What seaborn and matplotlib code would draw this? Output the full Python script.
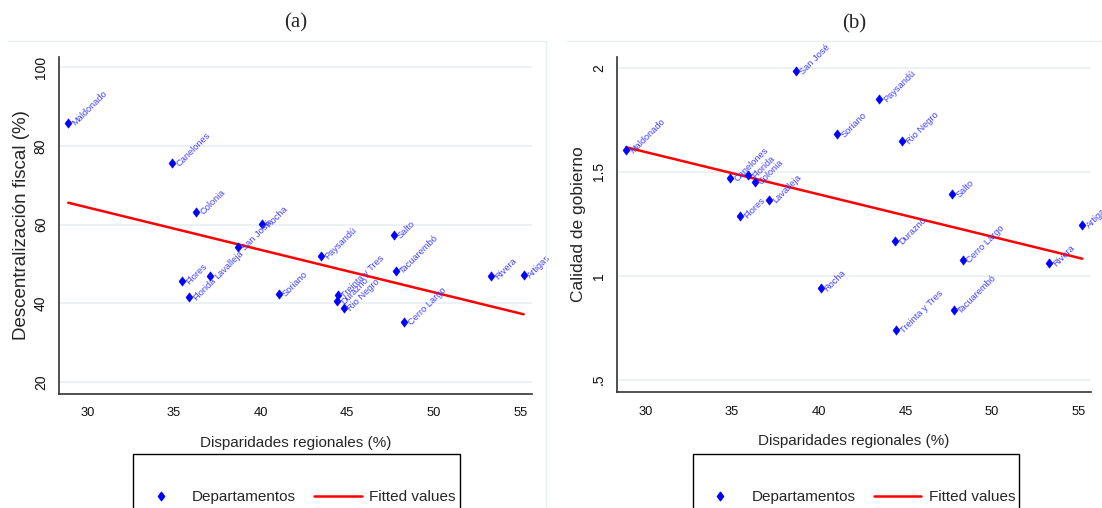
import numpy as np
import pandas as pd
import seaborn as sns
import matplotlib.pyplot as plt
from matplotlib import font_manager
from matplotlib.lines import Line2D
from matplotlib.patches import Rectangle
from matplotlib.path import Path

# datos
deptos = ["Maldonado", "Canelones", "Florida", "Colonia", "Flores", "Lavalleja",
          "San José", "Rocha", "Soriano", "Paysandú", "Durazno", "Treinta y Tres",
          "Rio Negro", "Salto", "Tacuarembó", "Cerro Largo", "Rivera", "Artigas"]
disparidades = [28.9, 34.9, 35.9, 36.3, 35.45, 37.1, 38.7, 40.1, 41.05, 43.5,
                44.4, 44.45, 44.8, 47.7, 47.8, 48.3, 53.3, 55.2]
descentralizacion = [85.9, 75.6, 41.5, 63.3, 45.7, 47.0, 54.3, 60.1, 42.5, 52.0,
                     40.6, 42.1, 38.8, 57.4, 48.3, 35.2, 46.9, 47.1]
calidad = [1.604, 1.468, 1.484, 1.452, 1.288, 1.362, 1.983, 0.94, 1.68, 1.85,
           1.166, 0.74, 1.649, 1.393, 0.835, 1.075, 1.061, 1.242]

xticks = [30, 35, 40, 45, 50, 55]
yticks_a = [20, 40, 60, 80, 100]
yticks_b = [0.5, 1, 1.5, 2]
yticklabels_b = [".5", "1", "1.5", "2"]
titulos = ["(a)", "(b)"]
ylabels = ["Descentralización fiscal (%)", "Calidad de gobierno"]
xlabel = "Disparidades regionales (%)"
leyenda = ["Departamentos", "Fitted values"]

df = pd.DataFrame({"depto": deptos, "disp": disparidades,
                   "desc": descentralizacion, "cal": calidad})

sns.set_style("white")
names = {f.name for f in font_manager.fontManager.ttflist}
narrow = "Liberation Sans Narrow" in names
hfont = "Liberation Sans Narrow" if narrow else "Liberation Sans"
plt.rcParams["font.family"] = ["Liberation Sans", "DejaVu Sans"]
k = 1.0 if narrow else 0.88

diamond = Path([(0, 1), (0.75, 0), (0, -1), (-0.75, 0), (0, 1)],
               [Path.MOVETO, Path.LINETO, Path.LINETO, Path.LINETO, Path.CLOSEPOLY])

fig = plt.figure(figsize=(11.02, 5.08), dpi=100)
W, H = 1102, 508
ax1 = fig.add_axes([58.9 / W, 1 - 393.6 / H, (532 - 58.9) / W, (393.6 - 56.7) / H])
ax2 = fig.add_axes([617 / W, 1 - 391.8 / H, (1090.6 - 617) / W, (391.8 - 57.3) / H])

paneles = [(ax1, "desc", (17.07, 102.7)), (ax2, "cal", (0.442, 2.05))]
for i, (ax, col, ylim) in enumerate(paneles):
    ax.set_axisbelow(True)
    ax.yaxis.grid(True, color="#E9F1F3", lw=1.3)
    sns.regplot(data=df, x="disp", y=col, ax=ax, scatter=False, ci=None,
                truncate=True, color="red", line_kws={"lw": 1.8})
    sns.scatterplot(data=df, x="disp", y=col, ax=ax, marker=diamond, s=45,
                    color="#0000FF", edgecolor="#0000FF", linewidth=0.4, zorder=3)
    for _, r in df.iterrows():
        ax.annotate(r["depto"], (r["disp"], r[col]), xytext=(5.2, -2.6),
                    textcoords="offset points", rotation=45, rotation_mode="anchor",
                    ha="left", va="baseline", fontsize=7.6 * k, color="#4040FF",
                    family=hfont, zorder=4)
    ax.set_xlim(28.36, 55.68)
    ax.set_ylim(*ylim)
    ax.set_xticks(xticks)
    ax.set_xticklabels([str(t) for t in xticks], family=hfont, fontsize=10.5 * k)
    if i == 0:
        ax.set_yticks(yticks_a)
        ax.set_yticklabels([str(t) for t in yticks_a])
    else:
        ax.set_yticks(yticks_b)
        ax.set_yticklabels(yticklabels_b)
    plt.setp(ax.get_yticklabels(), rotation=90, va="center", fontsize=10)
    ax.tick_params(axis="both", direction="out", length=5, width=1, color="#222222",
                   labelcolor="#111111")
    ax.tick_params(axis="x", pad=5)
    ax.tick_params(axis="y", pad=3)
    for s in ["top", "right"]:
        ax.spines[s].set_visible(False)
    for s in ["left", "bottom"]:
        ax.spines[s].set_color("#333333")
        ax.spines[s].set_linewidth(1.2)
    ax.set_xlabel(xlabel, family=hfont, fontsize=12.5 * k, va="center")
    ax.xaxis.set_label_coords(0.5, -0.146)
    ax.set_ylabel(ylabels[i], fontsize=13.5 if i == 0 else 12.5, va="center")
    ax.yaxis.set_label_coords(-0.078 if i == 0 else -0.082, 0.5)
    ax.set_title(titulos[i], family="Liberation Serif", fontsize=15, pad=21)

    # leyenda con recuadro debajo del panel
    x0 = 133.3 if i == 0 else 692.7
    fig.add_artist(Rectangle((x0 / W, -0.01), 326.5 / W, (508 - 454.3) / H + 0.01,
                             transform=fig.transFigure, fill=False, ec="black", lw=1))
    handles = [Line2D([], [], ls="none", marker=diamond, ms=6, color="#0000FF"),
               Line2D([], [], color="red", lw=1.8)]
    fig.legend(handles, leyenda, loc="center", frameon=False, ncol=2,
               bbox_to_anchor=((x0 + 163) / W, 1 - 497 / H),
               prop={"family": hfont, "size": 12.5 * k}, handlelength=3.1,
               handletextpad=0.5, columnspacing=1.2)

# lineas tenues de la region del grafico
for seg in [([8, 546], [40.7, 40.7]), ([567, 1102], [40.7, 40.7]), ([546, 546], [40.7, 508])]:
    fig.add_artist(Line2D([x / W for x in seg[0]], [1 - y / H for y in seg[1]],
                          transform=fig.transFigure, color="#E8F0F2", lw=1))

fig.savefig("out.png", dpi=100)
